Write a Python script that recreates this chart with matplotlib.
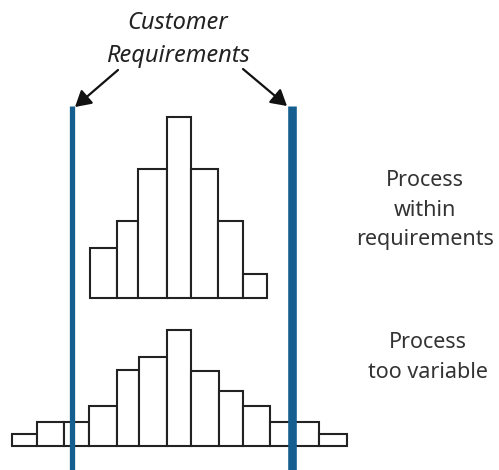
import matplotlib
matplotlib.use('Agg')
from matplotlib import pyplot as plt

# Histogram bins (left edges + last right edge) and bar heights, in picture units
top_edges = [90, 116.7, 138.3, 166.7, 190.7, 218.3, 242.7, 266.7]
top_heights = [50, 77, 129, 181, 129, 77, 24]

bottom_edges = [12.3, 37.3, 64, 89.3, 116.7, 139, 166.7, 191.3, 218.7,
                243.3, 270, 294, 319.3, 346.7]
bottom_heights = [12, 24, 24, 40, 76, 89, 116, 75, 55, 40, 24, 24, 12]

top_base = 298.3
bottom_base = 445.7

# Customer requirement limits
limits = [72.5, 291.7]
limit_widths = [3.8, 6.2]

title_lines = ['Customer', 'Requirements']
labels_top = ['Process', 'within', 'requirements']
labels_bottom = ['Process', 'too variable']

blue = '#145e90'
edge = '#222222'

fig = plt.figure(figsize=(4.99, 4.70), dpi=100)
ax = fig.add_axes([0, 0, 1, 1])
ax.set_xlim(0, 499)
ax.set_ylim(470, 0)
ax.axis('off')


def draw_hist(edges, heights, base):
    lefts = edges[:-1]
    widths = [edges[i + 1] - edges[i] for i in range(len(heights))]
    ax.bar(lefts, [-h for h in heights], width=widths, bottom=base,
           align='edge', facecolor='white', edgecolor=edge,
           linewidth=1.5, zorder=2)


draw_hist(top_edges, top_heights, top_base)
draw_hist(bottom_edges, bottom_heights, bottom_base)

for x, lw in zip(limits, limit_widths):
    ax.vlines(x, 106, 470, color=blue, linewidth=lw, zorder=3)

# Title with arrows
ax.text(177.5, 23, title_lines[0], ha='center', va='center', style='italic',
        fontsize=17, family='Noto Sans', color='#222222')
ax.text(177.5, 56, title_lines[1], ha='center', va='center', style='italic',
        fontsize=17, family='Noto Sans', color='#222222')

arrow = dict(arrowstyle='-|>,head_length=0.95,head_width=0.55',
             color='#111111', linewidth=1.6, shrinkA=0, shrinkB=0)
ax.annotate('', xy=(75, 107), xytext=(118, 70), arrowprops=arrow)
ax.annotate('', xy=(287, 106), xytext=(243, 69), arrowprops=arrow)

# Side labels
for i, s in enumerate(labels_top):
    ax.text(425, 180 + 30 * i, s, ha='center', va='center', fontsize=15.5,
            family='Noto Sans', fontweight='light', color='#333333')
for i, s in enumerate(labels_bottom):
    ax.text(428, 342 + 30 * i, s, ha='center', va='center', fontsize=15.5,
            family='Noto Sans', fontweight='light', color='#333333')

fig.savefig('out.png', dpi=100)
